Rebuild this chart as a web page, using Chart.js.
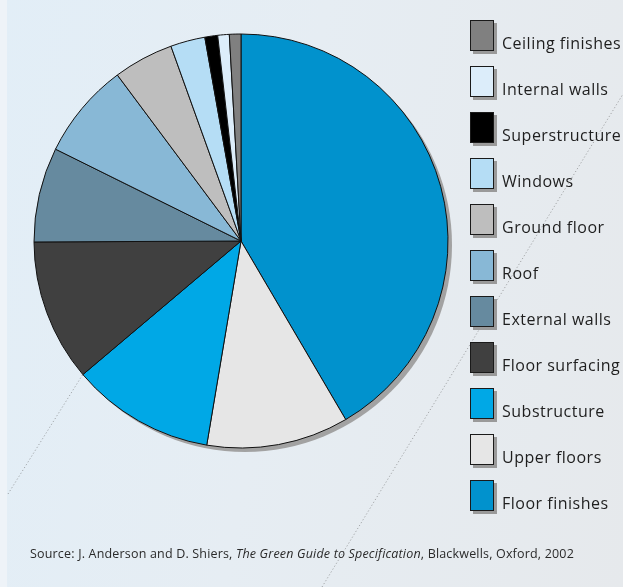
<!DOCTYPE html>
<html>
<head>
<meta charset="utf-8">
<script src="https://cdn.jsdelivr.net/npm/chart.js@4/dist/chart.umd.min.js"></script>
<style>
  html, body { margin: 0; padding: 0; }
  body {
    width: 623px; height: 587px; overflow: hidden; position: relative;
    background: linear-gradient(100deg, #e2eef7 0%, #e6edf3 45%, #e6e9ec 100%);
    font-family: "Open Sans", "Noto Sans", sans-serif;
  }
  #edge { position: absolute; left: 0; top: 0; width: 7px; height: 587px; background: #eef3f8; }
  #wrap { position: absolute; left: 0; top: 0; width: 623px; height: 587px; }
  #legend { position: absolute; left: 0; top: 0; }
  .item { position: absolute; left: 470px; }
  .box { position: absolute; left: 0; top: 0; width: 22px; height: 29px; border: 1px solid #1a1a1a; box-shadow: 3px 3px 0 #9a9a9a; }
  .lbl { position: absolute; left: 32px; font-size: 16px; letter-spacing: 0.5px; line-height: 1; color: #1e1e1e; white-space: nowrap; }
  #source { position: absolute; left: 30px; top: 548px; font-size: 12.5px; letter-spacing: 0.18px; line-height: 1; color: #2a2a2a; white-space: nowrap; }
</style>
</head>
<body>
<div id="edge"></div>
<div id="wrap"><canvas id="c" width="623" height="587"></canvas></div>
<div id="legend"></div>
<div id="source">Source: J. Anderson and D. Shiers, <i>The Green Guide to Specification</i>, Blackwells, Oxford, 2002</div>
<script>
// Data (clockwise from 12 o'clock), shares in percent
const categories = ["Floor finishes", "Upper floors", "Substructure", "Floor surfacing", "External walls", "Roof", "Ground floor", "Windows", "Superstructure", "Internal walls", "Ceiling finishes"];
const shares = [41.6, 11.1, 11.2, 11.1, 7.4, 7.5, 4.7, 2.7, 1.0, 0.9, 0.9];
const colors = ["#0192cd", "#e6e6e6", "#00a8e6", "#404040", "#668a9f", "#88b8d6", "#bebebe", "#b5ddf5", "#000000", "#dcedfa", "#808080"];

const shadowPlugin = {
  id: 'pieShadow',
  beforeDatasetsDraw(chart) {
    const arc = chart.getDatasetMeta(0).data[0];
    if (!arc) return;
    const ctx = chart.ctx;
    ctx.save();
    ctx.fillStyle = '#a2a2a2';
    ctx.beginPath();
    ctx.arc(arc.x + 4, arc.y + 4, arc.outerRadius, 0, Math.PI * 2);
    ctx.fill();
    ctx.restore();
  }
};

const decoPlugin = {
  id: 'deco',
  beforeDraw(chart) {
    const ctx = chart.ctx;
    ctx.save();
    ctx.strokeStyle = 'rgba(110,110,110,0.7)';
    ctx.lineWidth = 0.8;
    ctx.setLineDash([1.2, 2.2]);
    ctx.beginPath();
    ctx.moveTo(8, 494); ctx.lineTo(160, 251);
    ctx.moveTo(322, 587); ctx.lineTo(623, 94);
    ctx.stroke();
    ctx.restore();
  }
};

new Chart(document.getElementById('c'), {
  type: 'pie',
  data: {
    labels: categories,
    datasets: [{
      data: shares,
      backgroundColor: colors,
      borderColor: '#111111',
      borderWidth: 1,
      borderAlign: 'center'
    }]
  },
  options: {
    responsive: false,
    animation: false,
    radius: 207,
    layout: { padding: { left: 34, top: 34, right: 175, bottom: 139 } },
    plugins: { legend: { display: false }, tooltip: { enabled: false } }
  },
  plugins: [shadowPlugin, decoPlugin]
});

// Legend (reverse order of slices)
const legend = document.getElementById('legend');
const order = categories.map((_, i) => i).reverse();
order.forEach((idx, k) => {
  const item = document.createElement('div');
  item.className = 'item';
  item.style.top = (19.5 + 46 * k) + 'px';
  const box = document.createElement('div');
  box.className = 'box';
  box.style.background = colors[idx];
  const lbl = document.createElement('div');
  lbl.className = 'lbl';
  lbl.style.top = '15.6px';
  lbl.textContent = categories[idx];
  item.appendChild(box);
  item.appendChild(lbl);
  legend.appendChild(item);
});
</script>
</body>
</html>
